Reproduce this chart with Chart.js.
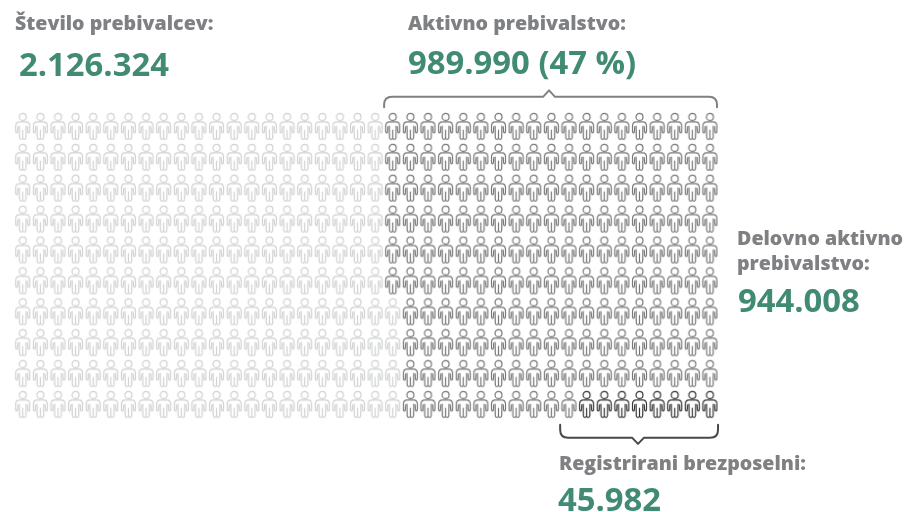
<!DOCTYPE html>
<html lang="sl"><head><meta charset="utf-8">
<style>html,body{margin:0;padding:0;background:#fff}canvas{display:block}</style>
<script src="https://cdn.jsdelivr.net/npm/chart.js@4"></script>
</head><body>
<canvas id="c" width="905" height="512"></canvas>
<script>
const columns = [0,1,2,3,4,5,6,7,8,9,10,11,12,13,14,15,16,17,18,19,20,21,22,23,24,25,26,27,28,29,30,31,32,33,34,35,36,37,38,39];
const rows = [0,1,2,3,4,5,6,7,8,9];
const activeStartByRow = [21,21,21,21,21,21,22,22,22,22];
const unemployedStartByRow = [40,40,40,40,40,40,40,40,40,32];
const seriesNames = ['Število prebivalcev','Aktivno prebivalstvo','Registrirani brezposelni'];
const labels = [
  {t:'Število prebivalcev:',x:15,y:30,big:false},
  {t:'2.126.324',x:19,y:76,big:true},
  {t:'Aktivno prebivalstvo:',x:408,y:30,big:false},
  {t:'989.990 (47 %)',x:408,y:74,big:true},
  {t:'Delovno aktivno',x:737,y:245,big:false},
  {t:'prebivalstvo:',x:737,y:270,big:false},
  {t:'944.008',x:738,y:312,big:true},
  {t:'Registrirani brezposelni:',x:559,y:470,big:false},
  {t:'45.982',x:558,y:511,big:true}
];

function person(color){
  const k=document.createElement('canvas');k.width=17;k.height=29;
  const g=k.getContext('2d');g.translate(1,1);g.strokeStyle=color;g.lineWidth=1.2;g.lineJoin='round';g.lineCap='round';
  g.beginPath();g.arc(7.5,3.9,3.5,0,Math.PI*2);g.stroke();
  g.beginPath();
  g.moveTo(4.2,8.8);g.quadraticCurveTo(.5,9,.5,12.8);g.lineTo(.5,18.5);
  g.quadraticCurveTo(.6,19.8,1.5,19.8);g.quadraticCurveTo(2.4,19.8,2.4,18.5);g.lineTo(2.8,13.5);
  g.moveTo(4.2,8.8);g.lineTo(10.8,8.8);g.quadraticCurveTo(14.5,9,14.5,12.8);g.lineTo(14.5,18.5);
  g.quadraticCurveTo(14.4,19.8,13.5,19.8);g.quadraticCurveTo(12.6,19.8,12.6,18.5);g.lineTo(12.2,13.5);
  g.stroke();
  g.beginPath();
  g.moveTo(4.1,13);g.lineTo(4.3,24.8);g.quadraticCurveTo(4.4,26.3,5.9,26.3);g.quadraticCurveTo(7.4,26.3,7.5,24.8);
  g.lineTo(7.5,17);g.moveTo(7.5,24.8);g.quadraticCurveTo(7.6,26.3,9.1,26.3);g.quadraticCurveTo(10.6,26.3,10.7,24.8);g.lineTo(10.9,13);
  g.stroke();
  return k;
}
const restPts=[],activePts=[],unempPts=[];
rows.forEach(r=>columns.forEach(c=>{
  const p={x:c,y:r};
  if(c>=unemployedStartByRow[r])unempPts.push(p);
  else if(c>=activeStartByRow[r])activePts.push(p);
  else restPts.push(p);
}));
const ds=(label,data,col)=>({label,data,pointStyle:person(col),pointRadius:8,pointHoverRadius:8,showLine:false});

const annotate={id:'annotate',afterDatasetsDraw(ch){
  const g=ch.ctx,X=ch.scales.x,Y=ch.scales.y;
  const bracket=(x0,x1,yLine,yEnd,xN,tip,col)=>{
    const a=X.getPixelForValue(x0),b=X.getPixelForValue(x1),n=X.getPixelForValue(xN);
    const l=Y.getPixelForValue(yLine),e=Y.getPixelForValue(yEnd),t=Y.getPixelForValue(tip);
    const s=Math.sign(l-e)*8;
    g.save();g.strokeStyle=col;g.lineWidth=2;g.lineJoin='round';g.lineCap='round';g.beginPath();
    g.moveTo(a,e);g.lineTo(a,l-s);g.quadraticCurveTo(a,l,a+8,l);
    g.lineTo(n-6,l);g.lineTo(n,t);g.lineTo(n+6,l);
    g.lineTo(b-8,l);g.quadraticCurveTo(b,l,b,l-s);g.lineTo(b,e);g.stroke();g.restore();
  };
  bracket(20.51,39.4,-0.96,-0.62,29.87,-1.17,'#808082');
  bracket(30.5,39.46,10.07,9.65,34.92,10.27,'#48484a');
  g.save();g.textAlign='left';g.textBaseline='alphabetic';
  labels.forEach(o=>{
    g.font=o.big?'bold 32.8px "Open Sans"':'800 19.6px "Open Sans"';
    g.fillStyle=o.big?'#418a74':'#7f8083';
    g.fillText(o.t,o.x,o.y);
  });
  g.restore();
}};

new Chart(document.getElementById('c'),{
  type:'scatter',
  data:{datasets:[
    ds(seriesNames[0],restPts,'#d0d1d1'),
    ds(seriesNames[1],activePts,'#78787a'),
    ds(seriesNames[2],unempPts,'#363638')
  ]},
  options:{
    responsive:false,animation:false,events:[],
    layout:{padding:0,autoPadding:false},
    plugins:{legend:{display:false},tooltip:{enabled:false}},
    scales:{
      x:{type:'linear',display:false,min:-1.288,max:50.07},
      y:{type:'linear',display:false,reverse:true,min:-4.094,max:12.476}
    }
  },
  plugins:[annotate]
});
</script>
</body></html>
